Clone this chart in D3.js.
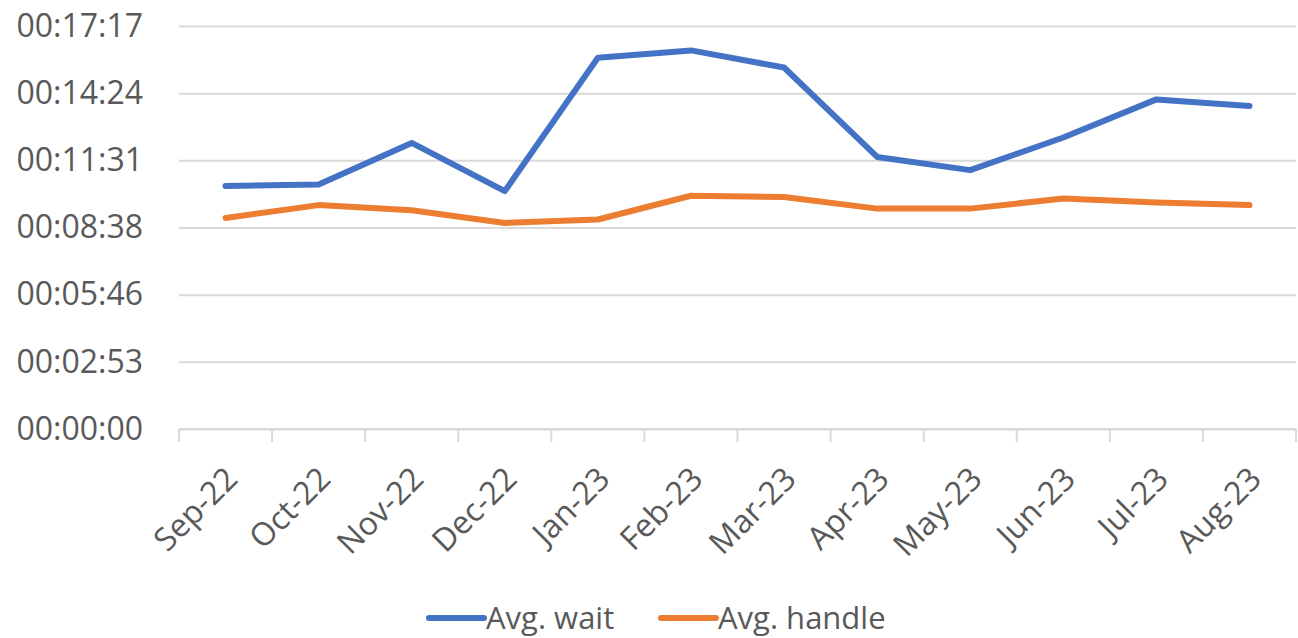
<!DOCTYPE html>
<html>
<head>
<meta charset="utf-8">
<script src="https://cdn.jsdelivr.net/npm/d3@7"></script>
<style>
  body { margin: 0; background: #fff; }
  text { font-family: "Open Sans", "Noto Sans", sans-serif; fill: #595959; }
</style>
</head>
<body>
<div id="chart"></div>
<script>
// months on the category axis
var months = ["Sep-22", "Oct-22", "Nov-22", "Dec-22", "Jan-23", "Feb-23",
              "Mar-23", "Apr-23", "May-23", "Jun-23", "Jul-23", "Aug-23"];
// values in seconds
var avgWait   = [625, 629, 736, 612, 955, 974, 930, 700, 666, 750, 848, 831];
var avgHandle = [543, 576, 563, 530, 539, 600, 597, 567, 567, 593, 583, 576];
var seriesNames = ["Avg. wait", "Avg. handle"];
// Excel-style time ticks: 0.002 day steps
var tickStep = 172.8;
var tickCount = 7;

var width = 1298, height = 638;
var margin = { top: 26, right: 2, bottom: 209, left: 179 };
var colors = ["#4472C4", "#ED7D31"];

var svg = d3.select("#chart").append("svg")
    .attr("width", width)
    .attr("height", height);

var x = d3.scaleBand()
    .domain(months)
    .range([margin.left, width - margin.right]);

var tickVals = d3.range(tickCount).map(function (i) { return i * tickStep; });
var y = d3.scaleLinear()
    .domain([0, tickVals[tickVals.length - 1]])
    .range([height - margin.bottom, margin.top]);

function fmtTime(s) {
    var t = Math.round(s);
    var h = Math.floor(t / 3600), m = Math.floor((t % 3600) / 60), sec = t % 60;
    return d3.format("02")(h) + ":" + d3.format("02")(m) + ":" + d3.format("02")(sec);
}

// gridlines + y labels
var yAxis = svg.append("g")
    .attr("transform", "translate(" + margin.left + ",0)")
    .call(d3.axisLeft(y).tickValues(tickVals).tickFormat(fmtTime)
        .tickSize(-(width - margin.left - margin.right)).tickPadding(36));
yAxis.select(".domain").remove();
yAxis.selectAll(".tick line").attr("stroke", "#d9d9d9").attr("stroke-width", 2);
yAxis.selectAll(".tick text").style("font-size", "32px").attr("fill", "#595959");

// category axis
var xAxisG = svg.append("g")
    .attr("transform", "translate(0," + y(0) + ")");
xAxisG.append("line")
    .attr("x1", margin.left).attr("x2", width - margin.right)
    .attr("stroke", "#d9d9d9").attr("stroke-width", 2);
var bounds = months.map(function (m) { return x(m); }).concat([x.range()[1]]);
xAxisG.selectAll(".xtick")
    .data(bounds)
    .enter().append("line")
    .attr("x1", function (d) { return d; })
    .attr("x2", function (d) { return d; })
    .attr("y1", 0).attr("y2", 13)
    .attr("stroke", "#d9d9d9").attr("stroke-width", 2);
xAxisG.selectAll(".xlabel")
    .data(months)
    .enter().append("text")
    .attr("text-anchor", "end")
    .attr("transform", function (d) {
        return "translate(" + (x(d) + x.bandwidth() / 2 - 2) + ",36) rotate(-45)";
    })
    .attr("dy", "0.7em")
    .style("font-size", "32px")
    .text(function (d) { return d; });

// lines
var line = d3.line()
    .x(function (d, i) { return x(months[i]) + x.bandwidth() / 2; })
    .y(function (d) { return y(d); });

[avgWait, avgHandle].forEach(function (vals, k) {
    svg.append("path")
        .datum(vals)
        .attr("d", line)
        .attr("fill", "none")
        .attr("stroke", colors[k])
        .attr("stroke-width", 6)
        .attr("stroke-linecap", "round")
        .attr("stroke-linejoin", "round");
});

// legend
var legendX = [429, 661];
var legend = svg.selectAll(".legend")
    .data(seriesNames)
    .enter().append("g")
    .attr("transform", function (d, i) { return "translate(" + legendX[i] + ",618)"; });
legend.append("line")
    .attr("x1", 0).attr("x2", 55)
    .attr("stroke", function (d, i) { return colors[i]; })
    .attr("stroke-width", 6)
    .attr("stroke-linecap", "round");
legend.append("text")
    .attr("x", 57)
    .attr("dy", "0.36em")
    .style("font-size", "31px")
    .text(function (d) { return d; });
</script>
</body>
</html>
